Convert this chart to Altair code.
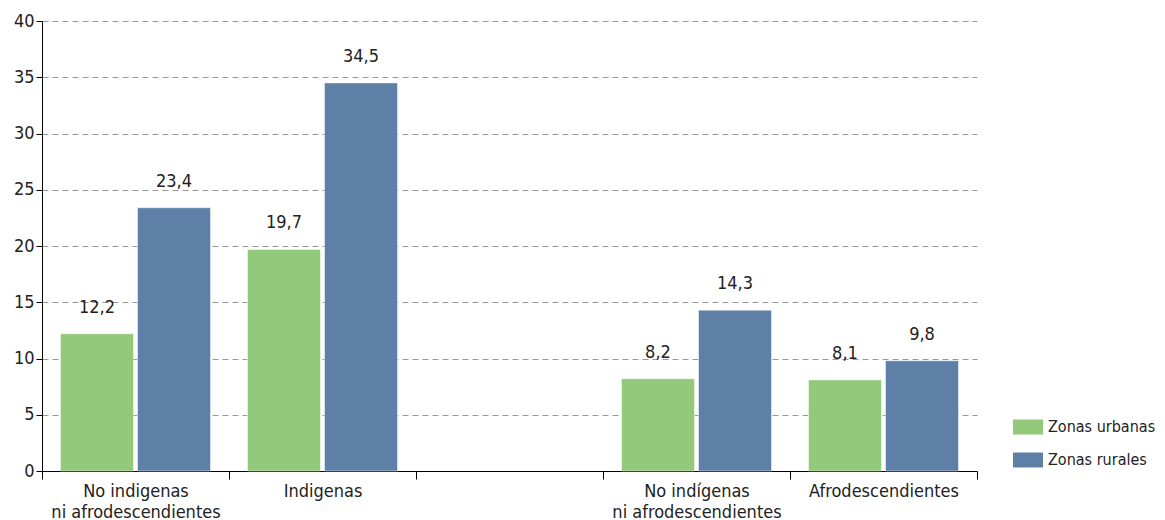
import altair as alt
import pandas as pd

keys = ["k1", "k2", "k3", "k4", "k5"]
cat_labels = ["No indigenas|ni afrodescendientes", "Indigenas", " ",
              "No indígenas|ni afrodescendientes", "Afrodescendientes"]
series = ["Zonas urbanas", "Zonas rurales"]
urbanas = [12.2, 19.7, None, 8.2, 8.1]
rurales = [23.4, 34.5, None, 14.3, 9.8]
colors = ["#92C97A", "#5E80A7"]

rows = []
for k, u, r in zip(keys, urbanas, rurales):
    for s, v in zip(series, [u, r]):
        if v is not None:
            rows.append({"cat": k, "serie": s, "valor": v,
                         "txt": f"{v:.1f}".replace(".", ",")})
df = pd.DataFrame(rows)

label_map = "{" + ",".join(f"'{k}':'{l}'" for k, l in zip(keys, cat_labels)) + "}"
FONT = "DejaVu Sans Condensed, Roboto, sans-serif"
FS = 18

x = alt.X("cat:N", scale=alt.Scale(domain=keys, paddingInner=0, paddingOuter=0),
          axis=alt.Axis(title=None, labelAngle=0, bandPosition=0, tickBand="extent",
                        labelExpr=f"isValid({label_map}[datum.value]) ? split({label_map}[datum.value], '|') : ''",
                        domainColor="#000", tickColor="#000", tickSize=8,
                        labelFontSize=FS, labelColor="#222", labelFont=FONT,
                        labelPadding=3, grid=False, labelLineHeight=21))
xo = alt.XOffset("serie:N", sort=series,
                 scale=alt.Scale(domain=series, paddingInner=0.052, paddingOuter=0.24))
y = alt.Y("valor:Q", scale=alt.Scale(domain=[0, 40]),
          axis=alt.Axis(title=None, values=list(range(0, 41, 5)), domainColor="#000",
                        tickColor="#000", tickSize=6, labelFontSize=FS, labelColor="#222",
                        labelFont=FONT, labelPadding=2,
                        gridDash=[6, 4], gridColor="#999", gridWidth=1))

base = alt.Chart(df).encode(x=x, xOffset=xo, y=y)
bars = base.mark_bar(stroke="white", strokeWidth=0.5).encode(
    color=alt.Color("serie:N", sort=series,
                    scale=alt.Scale(domain=series, range=colors),
                    legend=alt.Legend(title=None, orient="none", legendX=971, legendY=391,
                                      symbolType="M-1,-0.5H1V0.5H-1Z", symbolSize=900,
                                      symbolStrokeWidth=0, labelFontSize=16,
                                      labelFont=FONT, labelColor="#222", rowPadding=10,
                                      labelOffset=5))
)
text = base.mark_text(dy=-21, baseline="alphabetic", fontSize=FS, font=FONT,
                      color="#222").encode(text="txt:N")

chart = (bars + text).properties(width=935, height=450,
                                 padding={"left": 5, "top": 4, "right": 0, "bottom": 5}
                                 ).configure_view(stroke=None)

chart.save("out.html", embed_options={"renderer": "svg", "actions": False})
